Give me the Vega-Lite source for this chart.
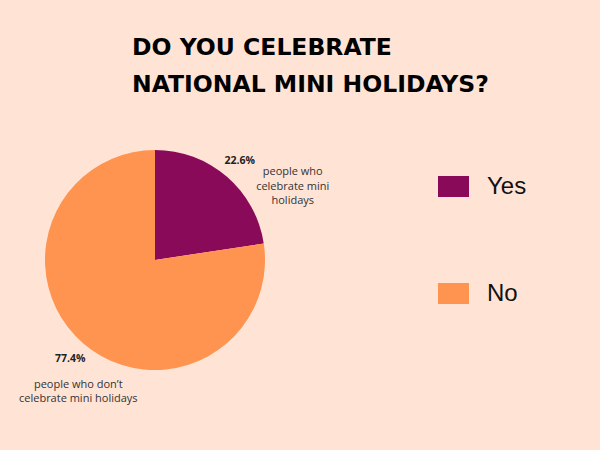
{
  "$schema": "https://vega.github.io/schema/vega-lite/v6.json",
  "width": 310,
  "height": 310,
  "autosize": {"type": "none"},
  "padding": {"left": 0, "top": 105, "right": 290, "bottom": 35},
  "background": "#FFE4D6",
  "title": {
    "text": ["DO YOU CELEBRATE", "NATIONAL MINI HOLIDAYS?"],
    "anchor": "start",
    "frame": "group",
    "font": "DejaVu Sans",
    "fontSize": 23.5,
    "fontWeight": "bold",
    "color": "#000000",
    "lineHeight": 36.5,
    "dx": 132,
    "offset": 9
  },
  "config": {"view": {"stroke": null}},
  "data": {
    "values": [
      {"answer": "Yes", "idx": 1, "percent": 22.6, "label": "22.6%", "desc": "people who|celebrate mini|holidays"},
      {"answer": "No", "idx": 2, "percent": 77.4, "label": "77.4%", "desc": "people who don’t|celebrate mini holidays"}
    ]
  },
  "encoding": {
    "theta": {"field": "percent", "type": "quantitative", "stack": true},
    "order": {"field": "idx", "type": "quantitative"}
  },
  "layer": [
    {
      "mark": {"type": "arc", "outerRadius": 110},
      "encoding": {
        "color": {
          "field": "answer",
          "type": "nominal",
          "scale": {"domain": ["Yes", "No"], "range": ["#8A0A5A", "#FF9350"]},
          "legend": {
            "title": null,
            "orient": "none",
            "legendX": 438,
            "legendY": 66,
            "padding": 0,
            "symbolType": "M-1,-0.677H1V0.677H-1Z",
            "symbolSize": 961,
            "symbolStrokeWidth": 0,
            "symbolOpacity": 1,
            "labelFont": "Liberation Sans",
            "labelFontSize": 24,
            "labelColor": "#111111",
            "labelOffset": 18,
            "rowPadding": 79
          }
        }
      }
    },
    {
      "mark": {"type": "text", "radius": 130, "font": "Open Sans", "fontSize": 10.5, "fontWeight": "bold", "color": "#222222", "align": "center", "baseline": "middle"},
      "encoding": {"text": {"field": "label", "type": "nominal"}}
    },
    {
      "mark": {"type": "text", "radius": 130, "dx": 53, "dy": 11, "lineBreak": "|", "lineHeight": 14.5, "font": "Open Sans", "fontSize": 11, "color": "#333333", "align": "center", "baseline": "middle"},
      "encoding": {"text": {"condition": {"test": "datum.answer == 'Yes'", "field": "desc", "type": "nominal"}, "value": ""}}
    },
    {
      "mark": {"type": "text", "radius": 130, "dx": 8, "dy": 26, "lineBreak": "|", "lineHeight": 14, "font": "Open Sans", "fontSize": 11, "color": "#333333", "align": "center", "baseline": "middle"},
      "encoding": {"text": {"condition": {"test": "datum.answer == 'No'", "field": "desc", "type": "nominal"}, "value": ""}}
    }
  ]
}
